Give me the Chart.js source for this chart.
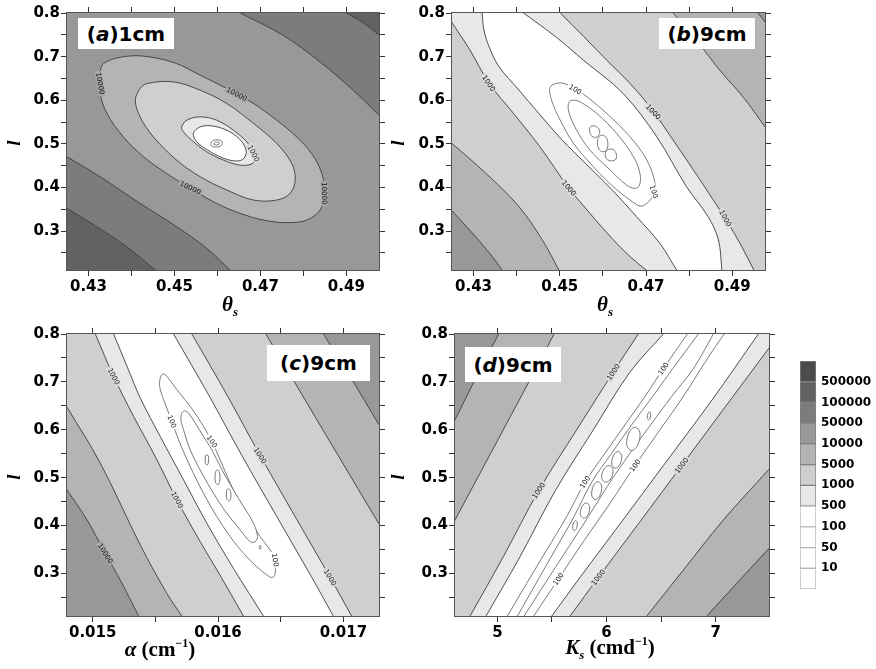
<!DOCTYPE html>
<html>
<head>
<meta charset="utf-8">
<script src="https://cdn.jsdelivr.net/npm/chart.js@4.4.1/dist/chart.umd.min.js"></script>
<style>
  body { margin: 0; background: #fff; width: 876px; height: 669px; position: relative; overflow: hidden; }
  canvas { position: absolute; }
  .tag { position: absolute; background: #fff; font: bold 20px "DejaVu Sans", sans-serif; color: #000;
         display: flex; align-items: center; justify-content: center; }
  .ttl { position: absolute; font-family: "Liberation Serif", serif; font-weight: bold; color: #000;
         white-space: nowrap; line-height: 1; transform: translate(-50%, -50%); font-size: 21px; }
  .ttl sub { font-size: 13px; vertical-align: -5px; font-style: italic; }
  .ttl sup { font-size: 12px; vertical-align: 9px; }
  .yl { position: absolute; font: italic bold 19px "Liberation Serif", serif; color: #000; line-height: 1;
        transform: translate(-50%, -50%) rotate(-90deg); }
</style>
</head>
<body>
<canvas id="pa" width="385" height="300" style="left:0;top:0"></canvas>
<canvas id="pb" width="386" height="300" style="left:385px;top:0"></canvas>
<canvas id="pc" width="385" height="325" style="left:0;top:321px"></canvas>
<canvas id="pd" width="387" height="325" style="left:388px;top:321px"></canvas>
<canvas id="cbar" width="96" height="270" style="left:780px;top:340px"></canvas>

<div class="tag" style="left:78px;top:18px;width:96px;height:31px">(<i>a</i>)1cm</div>
<div class="tag" style="left:659px;top:18px;width:96px;height:31px">(<i>b</i>)9cm</div>
<div class="tag" style="left:267px;top:345px;width:103px;height:36px">(<i>c</i>)9cm</div>
<div class="tag" style="left:465px;top:347px;width:96px;height:35px">(<i>d</i>)9cm</div>

<div class="yl" style="left:13px;top:143px">l</div>
<div class="yl" style="left:397px;top:143px">l</div>
<div class="yl" style="left:13px;top:477px">l</div>
<div class="yl" style="left:397px;top:477px">l</div>

<div class="ttl" style="left:230px;top:306px"><i>θ</i><sub>s</sub></div>
<div class="ttl" style="left:605px;top:306px"><i>θ</i><sub>s</sub></div>
<div class="ttl" style="left:160px;top:648px"><i>α</i> (cm<sup>−1</sup>)</div>
<div class="ttl" style="left:610px;top:648px"><i>K</i><sub>s</sub> (cmd<sup>−1</sup>)</div>

<script>
// axis ranges and ticks
const thetaRange = [0.425, 0.4976];
const alphaRange = [0.014795, 0.017284];
const ksRange = [4.612, 7.4885];
const lRange = [0.211, 0.8];

const thetaTicks = [0.43, 0.44, 0.45, 0.46, 0.47, 0.48, 0.49];
const thetaLabels = ['0.43', '', '0.45', '', '0.47', '', '0.49'];
const alphaTicks = [0.015, 0.0155, 0.016, 0.0165, 0.017];
const alphaLabels = ['0.015', '', '0.016', '', '0.017'];
const ksTicks = [5, 5.5, 6, 6.5, 7];
const ksLabels = ['5', '', '6', '', '7'];
const lTicks = [0.25, 0.3, 0.35, 0.4, 0.45, 0.5, 0.55, 0.6, 0.65, 0.7, 0.75, 0.8];
const lLabels = ['', '0.3', '', '0.4', '', '0.5', '', '0.6', '', '0.7', '', '0.8'];

// colour scale (bottom to top) and its level labels
const cbLevels = ['10', '50', '100', '500', '1000', '5000', '10000', '50000', '100000', '500000'];
const cbColors = ['#ffffff', '#ffffff', '#ffffff', '#ffffff', '#e8e8e8', '#cfcfcf', '#b4b4b4', '#989898', '#7c7c7c', '#626262', '#4b4b4b'];
const cbSteps = [1, 1, 1, 1, 1, 1, 1, 1, 1, 1, 1];

// (a) 1cm : theta_s vs l
const a100kTop = [[0.490, 0.800], [0.494, 0.777], [0.4976, 0.750]];
const a50kTop = [[0.4653, 0.800], [0.4753, 0.7489], [0.4839, 0.6879], [0.4916, 0.6230], [0.4976, 0.5658]];
const a50kBot = [[0.425, 0.4705], [0.4327, 0.4247], [0.4420, 0.3637], [0.4505, 0.3103], [0.4575, 0.2607], [0.4629, 0.2111]];
const a100kBot = [[0.425, 0.3522], [0.4319, 0.3103], [0.4389, 0.2645], [0.4455, 0.2111]];
const a10k = [[0.4335, 0.6841], [0.4389, 0.7008], [0.4443, 0.6993], [0.4505, 0.6841], [0.4560, 0.6574], [0.4622, 0.6268],
  [0.4684, 0.5925], [0.4738, 0.5544], [0.4784, 0.5162], [0.4819, 0.4781], [0.4843, 0.4323], [0.4850, 0.3866],
  [0.4839, 0.3484], [0.4808, 0.3255], [0.4761, 0.3195], [0.4707, 0.3255], [0.4653, 0.3408], [0.4598, 0.3637],
  [0.4544, 0.3942], [0.4482, 0.4323], [0.4428, 0.4705], [0.4381, 0.5162], [0.4343, 0.5696], [0.4327, 0.6154], [0.4327, 0.6535]];
const a5k = [[0.4409, 0.6001], [0.4420, 0.6268], [0.4436, 0.6383], [0.4498, 0.6421], [0.4560, 0.6230], [0.4622, 0.5925],
  [0.4684, 0.5468], [0.4738, 0.5010], [0.4773, 0.4552], [0.4781, 0.4171], [0.4769, 0.3866], [0.4738, 0.3713],
  [0.4684, 0.3713], [0.4622, 0.3942], [0.4560, 0.4247], [0.4505, 0.4629], [0.4451, 0.5162], [0.4420, 0.5620]];
const a1k = [[0.4517, 0.5391], [0.4529, 0.5544], [0.4560, 0.5620], [0.4598, 0.5544], [0.4637, 0.5315], [0.4668, 0.5048],
  [0.4688, 0.4743], [0.4682, 0.4552], [0.4653, 0.4514], [0.4614, 0.4629], [0.4575, 0.4819], [0.4540, 0.5086], [0.4521, 0.5277]];
const a500 = [[0.4544, 0.5239], [0.4560, 0.5391], [0.4591, 0.5407], [0.4629, 0.5277], [0.4657, 0.5048], [0.4667, 0.4819],
  [0.4659, 0.4644], [0.4637, 0.4613], [0.4606, 0.4705], [0.4575, 0.4873], [0.4552, 0.5048]];
const a100 = [[0.4586, 0.5040], [0.4592, 0.5085], [0.4604, 0.5090], [0.4611, 0.5050], [0.4610, 0.4980], [0.4604, 0.4935], [0.4592, 0.4930], [0.4585, 0.4970]];
const a50 = [[0.4593, 0.5020], [0.4598, 0.5045], [0.4604, 0.5030], [0.4604, 0.4995], [0.4598, 0.4975], [0.4592, 0.4990]];
const aLabels = [
  [0.4327, 0.6383, 80, '10000', '#a6a6a6'], [0.4645, 0.6140, 28, '10000', '#a6a6a6'],
  [0.4849, 0.3866, 88, '10000', '#a6a6a6'], [0.4537, 0.3990, 25, '10000', '#a6a6a6'],
  [0.4684, 0.4781, 62, '1000', '#dcdcdc']];

// (b) 9cm : theta_s vs l
const b10kTop = [[0.4960, 0.800], [0.4976, 0.7794]];
const b5kTop = [[0.4763, 0.800], [0.4817, 0.7375], [0.4871, 0.6688], [0.4925, 0.6078], [0.4976, 0.5391]];
const b1kRight = [[0.4501, 0.800], [0.4555, 0.7466], [0.4609, 0.6917], [0.4663, 0.6383], [0.4709, 0.5849], [0.4763, 0.5086],
  [0.4810, 0.4400], [0.4856, 0.3713], [0.4891, 0.3179], [0.4922, 0.2645], [0.4950, 0.2111]];
const b500Right = [[0.4416, 0.800], [0.4493, 0.7436], [0.4555, 0.6917], [0.4647, 0.6154], [0.4725, 0.5162], [0.4794, 0.4018],
  [0.4844, 0.3332], [0.4868, 0.2798], [0.4876, 0.2111]];
const b500Left = [[0.4320, 0.800], [0.4324, 0.7611], [0.4336, 0.7229], [0.4359, 0.6771], [0.4405, 0.6237], [0.4451, 0.5703],
  [0.4505, 0.5094], [0.4559, 0.4560], [0.4621, 0.3950], [0.4678, 0.3332], [0.4732, 0.2722], [0.4771, 0.2111]];
const b1kLeft = [[0.4251, 0.7764], [0.4292, 0.7146], [0.4336, 0.6391], [0.4393, 0.5696], [0.4454, 0.4934], [0.4521, 0.3988],
  [0.4570, 0.3408], [0.4621, 0.2836], [0.4663, 0.2417], [0.4700, 0.2111]];
const b5kLeft = [[0.4251, 0.5002], [0.4328, 0.4331], [0.4405, 0.3568], [0.4459, 0.2806], [0.4498, 0.2111]];
const b10kLeft = [[0.4251, 0.3454], [0.4297, 0.2958], [0.4343, 0.2424], [0.4366, 0.2111]];
const b100 = [[0.4478, 0.6307], [0.4501, 0.6398], [0.4528, 0.6307], [0.4563, 0.6078], [0.4609, 0.5696], [0.4663, 0.5162],
  [0.4702, 0.4629], [0.4721, 0.4095], [0.4717, 0.3828], [0.4702, 0.3637], [0.4686, 0.3576], [0.4663, 0.3713],
  [0.4624, 0.4018], [0.4578, 0.4476], [0.4532, 0.5010], [0.4501, 0.5544], [0.4481, 0.6001]];
const b50 = [[0.4520, 0.5925], [0.4528, 0.6001], [0.4547, 0.5963], [0.4586, 0.5696], [0.4632, 0.5239], [0.4671, 0.4705],
  [0.4686, 0.4323], [0.4685, 0.4056], [0.4675, 0.3980], [0.4655, 0.4056], [0.4617, 0.4400], [0.4570, 0.4857],
  [0.4539, 0.5315], [0.4522, 0.5696]];
const b10 = [
  [[0.4569, 0.5330], [0.4572, 0.5400], [0.4582, 0.5410], [0.4592, 0.5320], [0.4591, 0.5210], [0.4583, 0.5150], [0.4573, 0.5190]],
  [[0.4588, 0.5100], [0.4592, 0.5180], [0.4602, 0.5195], [0.4610, 0.5100], [0.4611, 0.4930], [0.4605, 0.4830], [0.4595, 0.4835], [0.4588, 0.4950]],
  [[0.4606, 0.4800], [0.4612, 0.4870], [0.4624, 0.4870], [0.4631, 0.4770], [0.4630, 0.4650], [0.4620, 0.4610], [0.4608, 0.4660]]];
const bLabels = [
  [0.4335, 0.6391, 57, '1000', '#dcdcdc'], [0.4521, 0.3988, 50, '1000', '#dcdcdc'],
  [0.4717, 0.5735, 47, '1000', '#dcdcdc'], [0.4884, 0.3294, 62, '1000', '#dcdcdc'],
  [0.4536, 0.6250, 30, '100', '#ffffff'], [0.4718, 0.3904, 72, '100', '#ffffff']];

// (c) 9cm : alpha vs l
const c10kLeft = [[0.014795, 0.4743], [0.014955, 0.4116], [0.015101, 0.3418], [0.015220, 0.2860], [0.015367, 0.2107]];
const c5kLeft = [[0.014795, 0.6473], [0.015061, 0.5301], [0.015380, 0.3592], [0.015592, 0.2581], [0.015712, 0.2107]];
const c1kLeft = [[0.015021, 0.8], [0.015167, 0.7114], [0.015327, 0.6277], [0.015499, 0.5440], [0.015672, 0.4534],
  [0.015858, 0.3662], [0.016031, 0.2895], [0.016203, 0.2107]];
const c500Left = [[0.015167, 0.8], [0.015274, 0.7324], [0.015380, 0.6661], [0.015539, 0.5859], [0.015725, 0.4952],
  [0.015911, 0.4046], [0.016123, 0.3104], [0.016363, 0.2107]];
const c500Right = [[0.015645, 0.8], [0.015924, 0.6731], [0.016190, 0.5461], [0.016469, 0.4185], [0.016748, 0.2916], [0.016920, 0.2107]];
const c1kRight = [[0.015791, 0.8], [0.016070, 0.6731], [0.016336, 0.5461], [0.016615, 0.4185], [0.016894, 0.2916], [0.017066, 0.2107]];
const c5kRight = [[0.016381, 0.8], [0.016602, 0.7031], [0.016947, 0.5510], [0.017284, 0.4032]];
const c10kRight = [[0.016841, 0.8], [0.017053, 0.7114], [0.017284, 0.6103]];
const c100 = [[0.015539, 0.7079], [0.015560, 0.7170], [0.015592, 0.7114], [0.015672, 0.6835], [0.015778, 0.6487],
  [0.015884, 0.6068], [0.015951, 0.5754], [0.016017, 0.5371], [0.016097, 0.4883], [0.016177, 0.4464],
  [0.016256, 0.4116], [0.016336, 0.3767], [0.016416, 0.3488], [0.016455, 0.3279], [0.016455, 0.3000],
  [0.016437, 0.2916], [0.016402, 0.2944], [0.016309, 0.3139], [0.016203, 0.3418], [0.016097, 0.3767],
  [0.015991, 0.4185], [0.015884, 0.4673], [0.015778, 0.5231], [0.015685, 0.5789], [0.015632, 0.6173],
  [0.015566, 0.6626], [0.015534, 0.6905]];
const c50 = [[0.015712, 0.6347], [0.015733, 0.6396], [0.015765, 0.6347], [0.015818, 0.6138], [0.015884, 0.5859],
  [0.015951, 0.5580], [0.016031, 0.5162], [0.016123, 0.4743], [0.016203, 0.4394], [0.016283, 0.4046],
  [0.016315, 0.3767], [0.016296, 0.3662], [0.016256, 0.3662], [0.016177, 0.3906], [0.016070, 0.4255],
  [0.015964, 0.4673], [0.015871, 0.5092], [0.015778, 0.5580], [0.015725, 0.5998], [0.015704, 0.6208]];
const c10 = [
  [[0.015900, 0.5460], [0.015912, 0.5476], [0.015924, 0.5440], [0.015922, 0.5300], [0.015910, 0.5266], [0.015898, 0.5300]],
  [[0.015978, 0.5100], [0.015992, 0.5160], [0.016010, 0.5120], [0.016015, 0.4950], [0.016002, 0.4855], [0.015980, 0.4900]],
  [[0.016068, 0.4720], [0.016080, 0.4765], [0.016098, 0.4730], [0.016102, 0.4580], [0.016090, 0.4513], [0.016070, 0.4560]],
  [[0.016328, 0.3550], [0.016336, 0.3586], [0.016344, 0.3550], [0.016336, 0.3502]]];
const cLabels = [
  [0.015167, 0.7114, 62, '1000', '#dcdcdc'], [0.015672, 0.4534, 62, '1000', '#dcdcdc'],
  [0.015101, 0.3418, 58, '10000', '#a6a6a6'], [0.016336, 0.5461, 58, '1000', '#dcdcdc'],
  [0.016894, 0.2916, 58, '1000', '#dcdcdc'], [0.015632, 0.6173, 68, '100', '#ffffff'],
  [0.015951, 0.5754, 55, '100', '#ffffff'], [0.016455, 0.3279, 80, '100', '#ffffff']];

// (d) 9cm : Ks vs l
const d10kLeft = [[4.6122, 0.6208], [4.8107, 0.7114], [5.0122, 0.8]];
const d5kLeft = [[4.6122, 0.4116], [4.8412, 0.5092], [5.0702, 0.6068], [5.2992, 0.7045], [5.5191, 0.8]];
const d1kLeft = [[4.7496, 0.2107], [5.0550, 0.3349], [5.3786, 0.4729], [5.7267, 0.5999], [6.0626, 0.7205], [6.2916, 0.8]];
const d500Left = [[4.8962, 0.2107], [5.2076, 0.3349], [5.5313, 0.4729], [5.8794, 0.5999], [6.2153, 0.7205], [6.5206, 0.8]];
const d500Right = [[5.4977, 0.2107], [5.7573, 0.2916], [6.1389, 0.4081], [6.5206, 0.5252], [6.9634, 0.6612], [7.3908, 0.8]];
const d1kRight = [[5.6656, 0.2107], [5.9252, 0.2916], [6.3069, 0.4081], [6.6885, 0.5252], [7.1313, 0.6612], [7.4885, 0.7707]];
const d5kRight = [[6.3679, 0.2107], [6.7038, 0.3070], [7.0702, 0.4116], [7.4885, 0.5176]];
const d10kRight = [[6.9176, 0.2107], [7.1924, 0.2791], [7.4885, 0.3523]];
const d100Left = [[5.0916, 0.2107], [5.2687, 0.2791], [5.4519, 0.3488], [5.6351, 0.4186], [5.8031, 0.4904],
  [5.9863, 0.5510], [6.1695, 0.6103], [6.3527, 0.6696], [6.5206, 0.7275], [6.7405, 0.8]];
const d50Left = [[5.1832, 0.2107], [5.3542, 0.2791], [5.5282, 0.3488], [5.7023, 0.4186], [5.8641, 0.4904],
  [6.0473, 0.5510], [6.2305, 0.6103], [6.4229, 0.6696], [6.6061, 0.7275], [6.8412, 0.8]];
const d50Right = [[5.2443, 0.2107], [5.4366, 0.2791], [5.6351, 0.3488], [5.8336, 0.4186], [6.0321, 0.4904],
  [6.2153, 0.5510], [6.4046, 0.6103], [6.5969, 0.6696], [6.7954, 0.7275], [6.9786, 0.8]];
const d100Right = [[5.3328, 0.2107], [5.5588, 0.2881], [5.7878, 0.3662], [6.0321, 0.4464], [6.2611, 0.5252],
  [6.4901, 0.5999], [6.7038, 0.6696], [6.9176, 0.7463], [7.0763, 0.8]];
const d10 = [
  [[5.6901, 0.3945], [5.6987, 0.4060], [5.7179, 0.4102], [5.7329, 0.4050], [5.7243, 0.3934], [5.7051, 0.3892]],
  [[5.7604, 0.4231], [5.7775, 0.4407], [5.8159, 0.4471], [5.8458, 0.4391], [5.8287, 0.4215], [5.7903, 0.4151]],
  [[5.8641, 0.4635], [5.8824, 0.4842], [5.9236, 0.4917], [5.9557, 0.4823], [5.9374, 0.4616], [5.8962, 0.4541]],
  [[5.9557, 0.4991], [5.9765, 0.5182], [6.0232, 0.5252], [6.0595, 0.5165], [6.0387, 0.4974], [5.9920, 0.4904]],
  [[6.0473, 0.5284], [6.0656, 0.5475], [6.1068, 0.5545], [6.1389, 0.5458], [6.1206, 0.5267], [6.0794, 0.5197]],
  [[6.1848, 0.5688], [6.2092, 0.5956], [6.2641, 0.6054], [6.3068, 0.5932], [6.2824, 0.5664], [6.2275, 0.5566]],
  [[6.3740, 0.6250], [6.3801, 0.6342], [6.3939, 0.6376], [6.4046, 0.6334], [6.3985, 0.6242], [6.3847, 0.6208]]];
const dLabels = [
  [5.3786, 0.4729, -57, '1000', '#dcdcdc'], [6.0626, 0.7205, -57, '1000', '#dcdcdc'],
  [5.9252, 0.2916, -53, '1000', '#dcdcdc'], [6.6885, 0.5252, -53, '1000', '#dcdcdc'],
  [6.5206, 0.7275, -55, '100', '#ffffff'], [5.8031, 0.4904, -58, '100', '#ffffff'],
  [6.2611, 0.5252, -55, '100', '#ffffff'], [5.5588, 0.2881, -55, '100', '#ffffff']];

const G = cbColors;
const dark = '#3c3c3c', soft = '#6c6c6c';

// open contours are carried on straight past the frame (then clipped) so their ends stay smooth
function carry(xr, p, q) {
  const sx = xr[1] - xr[0], sy = lRange[1] - lRange[0];
  const dx = (p[0] - q[0]) / sx, dy = (p[1] - q[1]) / sy;
  const k = 0.2 / (Math.hypot(dx, dy) || 1);
  return [p[0] + dx * k * sx, p[1] + dy * k * sy];
}
function extend(xr, c) {
  const n = c.length;
  return [carry(xr, c[0], c[1]), ...c, carry(xr, c[n - 1], c[n - 2])];
}
function corner(xr, k) {
  const px = (xr[1] - xr[0]) * 0.35, py = (lRange[1] - lRange[0]) * 0.35;
  return [k[1] === 'l' ? xr[0] - px : xr[1] + px, k[0] === 'b' ? lRange[0] - py : lRange[1] + py];
}
const region = (xr, c, corners, fill) => ({ pts: [...extend(xr, c), ...corners.map(k => corner(xr, k))], fill, line: dark });
const band = (xr, c1, c2, fill, corners = []) => ({ pts: [...extend(xr, c1), ...corners.map(k => corner(xr, k)), ...extend(xr, c2).reverse()], fill, line: dark });
const loop = (c, fill, line) => ({ pts: c, fill, line, closed: true });
const open = (xr, c) => ({ pts: extend(xr, c), fill: null, line: soft });

// closed contours: let the line element wrap round so the spline has no seam
const closeLoops = {
  id: 'closeLoops',
  afterDatasetUpdate(chart, args) {
    if (!chart.data.datasets[args.index].closed) return;
    const line = args.meta.dataset;
    line._loop = true;
    line._fullLoop = true;
    line._pointsUpdated = false;
    delete line._segments;
    delete line._path;
  }
};

function makePanel(id, xr, xTicks, xLabels, bg, layers, labels) {
  const cv = document.getElementById(id);
  const datasets = layers.map((L, i) => ({
    data: L.pts.map(p => ({ x: p[0], y: p[1] })),
    closed: !!L.closed,
    fill: L.fill ? 'shape' : false,
    backgroundColor: L.fill || 'rgba(0,0,0,0)',
    borderColor: L.line,
    borderWidth: 0.9,
    pointRadius: 0,
    tension: 0.35,
    order: layers.length - i
  }));
  const plotBg = {
    id: 'plotBg',
    beforeDatasetsDraw(chart) {
      const a = chart.chartArea, ctx = chart.ctx;
      ctx.save(); ctx.fillStyle = bg; ctx.fillRect(a.left, a.top, a.width, a.height); ctx.restore();
    }
  };
  const overlay = {
    id: 'overlay',
    afterDatasetsDraw(chart) {
      const { ctx, chartArea: a, scales: { x, y } } = chart;
      ctx.save();
      ctx.font = '7px "DejaVu Sans"';
      ctx.textAlign = 'center';
      ctx.textBaseline = 'middle';
      for (const L of labels) {
        ctx.save();
        ctx.translate(x.getPixelForValue(L[0]), y.getPixelForValue(L[1]));
        ctx.rotate(L[2] * Math.PI / 180);
        const w = ctx.measureText(L[3]).width;
        ctx.fillStyle = L[4];
        ctx.fillRect(-w / 2 - 1.5, -3.5, w + 3, 7);
        ctx.fillStyle = '#111';
        ctx.fillText(L[3], 0, 0.5);
        ctx.restore();
      }
      ctx.strokeStyle = '#555';
      ctx.lineWidth = 1;
      ctx.strokeRect(Math.round(a.left) - 0.5, Math.round(a.top) - 0.5, Math.round(a.width) + 1, Math.round(a.height) + 1);
      ctx.restore();
    }
  };
  const grid = { drawOnChartArea: false, tickLength: 6, tickColor: '#333', tickWidth: 1 };
  const tickFont = { family: 'DejaVu Sans', size: 15, weight: 'bold' };
  const setX = s => { s.ticks = xTicks.map(v => ({ value: v })); };
  const setY = s => { s.ticks = lTicks.map(v => ({ value: v })); };
  return new Chart(cv, {
    type: 'line',
    data: { datasets },
    options: {
      responsive: false,
      animation: false,
      events: [],
      elements: { line: { capBezierPoints: false } },
      layout: { padding: 0 },
      plugins: { legend: { display: false }, tooltip: { enabled: false } },
      scales: {
        x: { type: 'linear', position: 'bottom', min: xr[0], max: xr[1], afterBuildTicks: setX,
             afterFit: s => { s.height = 30; }, grid, border: { display: false },
             ticks: { font: tickFont, color: '#000', padding: 2, maxRotation: 0, autoSkip: false, callback: (v, i) => xLabels[i] } },
        x2: { type: 'linear', position: 'top', min: xr[0], max: xr[1], afterBuildTicks: setX,
              afterFit: s => { s.height = 13; }, grid, border: { display: false }, ticks: { display: false } },
        y: { type: 'linear', position: 'left', min: lRange[0], max: lRange[1], afterBuildTicks: setY,
             afterFit: s => { s.width = 67; }, grid, border: { display: false },
             ticks: { font: tickFont, color: '#000', padding: 1, autoSkip: false, callback: (v, i) => lLabels[i] } },
        y2: { type: 'linear', position: 'right', min: lRange[0], max: lRange[1], afterBuildTicks: setY,
              afterFit: s => { s.width = 6; }, grid, border: { display: false }, ticks: { display: false } }
      }
    },
    plugins: [closeLoops, plotBg, overlay]
  });
}

const T = thetaRange, A = alphaRange, K = ksRange;

makePanel('pa', T, thetaTicks, thetaLabels, G[7], [
  region(T, a50kTop, ['tr'], G[8]),
  region(T, a100kTop, ['tr'], G[9]),
  region(T, a50kBot, ['bl'], G[8]),
  region(T, a100kBot, ['bl'], G[9]),
  loop(a10k, G[6], dark),
  loop(a5k, G[5], dark),
  loop(a1k, G[4], dark),
  loop(a500, G[3], dark),
  loop(a100, G[2], soft),
  loop(a50, G[1], soft)
], aLabels);

makePanel('pb', T, thetaTicks, thetaLabels, G[5], [
  region(T, b1kLeft, ['br', 'tr', 'tl'], G[4]),
  band(T, b500Left, b500Right, G[3]),
  region(T, b1kRight, ['br', 'tr'], G[5]),
  region(T, b5kTop, ['tr'], G[6]),
  region(T, b10kTop, ['tr'], G[7]),
  region(T, b5kLeft, ['bl'], G[6]),
  region(T, b10kLeft, ['bl'], G[7]),
  loop(b100, G[2], soft),
  loop(b50, G[1], soft),
  ...b10.map(c => loop(c, G[0], soft))
], bLabels);

makePanel('pc', A, alphaTicks, alphaLabels, G[5], [
  region(A, c5kLeft, ['bl'], G[6]),
  region(A, c10kLeft, ['bl'], G[7]),
  band(A, c1kLeft, c1kRight, G[4]),
  band(A, c500Left, c500Right, G[3]),
  region(A, c5kRight, ['tr'], G[6]),
  region(A, c10kRight, ['tr'], G[7]),
  loop(c100, G[2], soft),
  loop(c50, G[1], soft),
  ...c10.map(c => loop(c, G[0], soft))
], cLabels);

makePanel('pd', K, ksTicks, ksLabels, G[5], [
  region(K, d5kLeft, ['tl'], G[6]),
  region(K, d10kLeft, ['tl'], G[7]),
  band(K, d1kLeft, d1kRight, G[4], ['tr']),
  band(K, d500Left, d500Right, G[3]),
  region(K, d5kRight, ['br'], G[6]),
  region(K, d10kRight, ['br'], G[7]),
  open(K, d100Left),
  open(K, d50Left),
  open(K, d50Right),
  open(K, d100Right),
  ...d10.map(c => loop(c, G[0], soft))
], dLabels);

// colour bar as one stacked bar
new Chart(document.getElementById('cbar'), {
  type: 'bar',
  data: {
    labels: [''],
    datasets: cbColors.map((c, i) => ({
      data: [cbSteps[i]],
      backgroundColor: c,
      borderColor: i < 4 ? '#b8b8b8' : '#808080',
      borderWidth: 1,
      borderSkipped: false,
      categoryPercentage: 1,
      barPercentage: 1
    }))
  },
  options: {
    responsive: false,
    animation: false,
    events: [],
    layout: { padding: { left: 20, top: 21, bottom: 21, right: 0 } },
    plugins: { legend: { display: false }, tooltip: { enabled: false } },
    scales: {
      x: { stacked: true, display: false },
      y: { stacked: true, position: 'right', min: 0, max: 11,
           afterBuildTicks: s => { s.ticks = cbLevels.map((_, i) => ({ value: i + 1 })); },
           afterFit: s => { s.width = 60; },
           grid: { display: false, drawTicks: false }, border: { display: false },
           ticks: { font: { family: 'DejaVu Sans', size: 12, weight: 'bold' }, color: '#000', padding: 5, autoSkip: false,
                    callback: (v, i) => cbLevels[i] } }
    }
  }
});
</script>
</body>
</html>
